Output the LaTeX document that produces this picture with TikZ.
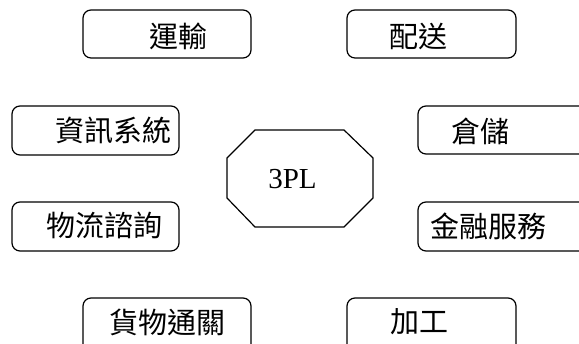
\documentclass[tikz,border=0pt]{standalone}
\usepackage{fontspec}
\setmainfont{Liberation Serif}
\newfontfamily\cjk{Noto Sans CJK TC}
\begin{document}
\begin{tikzpicture}[x=1pt,y=1pt,
  box/.style={draw, line width=1.2pt, rounded corners=8pt, inner sep=0pt},
  lbl/.style={inner sep=0pt, font=\cjk\fontsize{29}{30}\selectfont},
  edge/.style={line width=1.2pt, line join=miter}]
\useasboundingbox (0,0) rectangle (579,344);
\clip (0,0) rectangle (579,344);
% boxes
\node[box, minimum width=168pt, minimum height=48pt] (yun) at (167,310) {};
\node[box, minimum width=169pt, minimum height=48pt] (pei) at (431.5,310) {};
\node[box, minimum width=167pt, minimum height=49pt] (zi) at (95.5,213.5) {};
\node[box, minimum width=182pt, minimum height=48pt] (cang) at (509,214) {};
\node[box, minimum width=167pt, minimum height=49pt] (wu) at (95.5,117.5) {};
\node[box, minimum width=182pt, minimum height=49pt] (jin) at (509,117.5) {};
\node[box, minimum width=168pt, minimum height=62pt] (huo) at (167,15) {};
\node[box, minimum width=169pt, minimum height=62pt] (jia) at (431.5,15) {};
% labels
\node[lbl] (tyun) at (178.5,307.5) {運輸};
\node[lbl] (tpei) at (418.5,307.5) {配送};
\node[lbl] (tzi) at (114,214) {資訊系統};
\node[lbl] (tcang) at (480,213) {倉儲};
\node[lbl] (twu) at (104.5,119) {物流諮詢};
\node[lbl] (tjin) at (488.5,117.5) {金融服務};
\node[lbl] (thuo) at (167,22) {貨物通關};
\node[lbl] (tjia) at (419,22) {加工};
% center octagon
\draw[edge] (255,214) -- (344,214) -- (373,186) -- (373,146) -- (344,117) -- (255,117) -- (227,146) -- (227,186) -- cycle;
\node[inner sep=0pt, font=\fontsize{29}{30}\selectfont] (tc) at (292.5,165) {3PL};
\end{tikzpicture}
\end{document}
